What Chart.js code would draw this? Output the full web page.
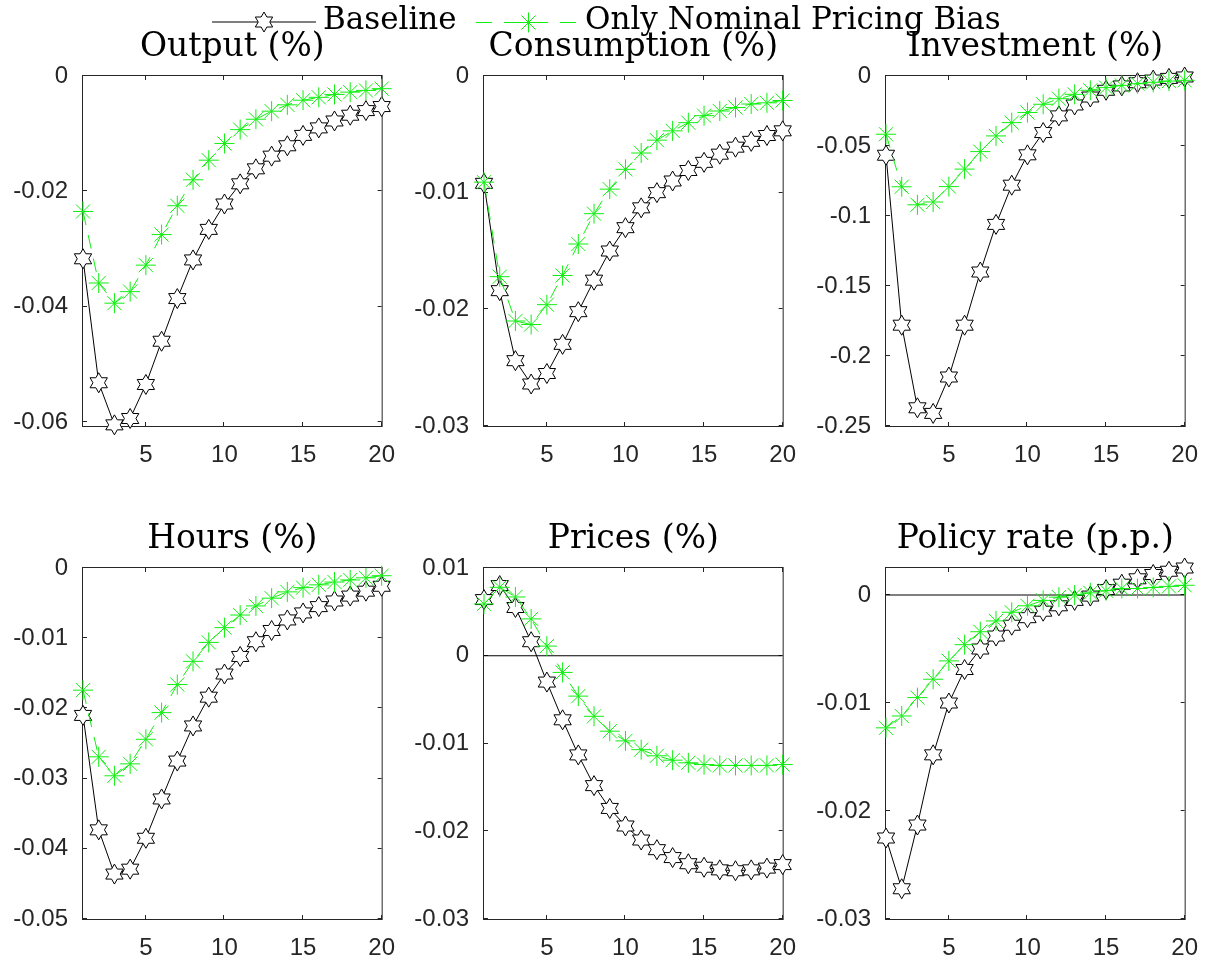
<!DOCTYPE html>
<html>
<head>
<meta charset="utf-8">
<script src="https://cdn.jsdelivr.net/npm/chart.js@4.4.0/dist/chart.umd.min.js"></script>
<style>
  body { margin: 0; background: #fff; width: 1218px; height: 965px; position: relative; overflow: hidden; }
  canvas.panel { position: absolute; }
  #legend { position: absolute; left: 0; top: 0; width: 1218px; height: 40px; z-index: 5;
            font-family: 'DejaVu Serif', serif; font-size: 31px; line-height: 31px; color: #000; }
  #legend canvas, #legend span { position: absolute; }
  #legend span { top: 3px; white-space: nowrap; }
</style>
</head>
<body>
<div id="legend">
  <canvas id="legBase" width="104" height="24" style="left:212px; top:10px"></canvas>
  <span style="left:323px">Baseline</span>
  <canvas id="legAlt" width="102" height="24" style="left:476px; top:10px"></canvas>
  <span style="left:585px">Only Nominal Pricing Bias</span>
</div>
<script>
// impulse responses, quarters 1..20
const periods = [1, 2, 3, 4, 5, 6, 7, 8, 9, 10, 11, 12, 13, 14, 15, 16, 17, 18, 19, 20];

const outputBaseline = [-0.0317, -0.0532, -0.0605, -0.0594, -0.0535, -0.0460, -0.0386, -0.0319, -0.0266, -0.0222,
                        -0.0187, -0.0161, -0.0139, -0.0121, -0.0103, -0.0090, -0.0078, -0.0068, -0.0060, -0.0053];
const outputNominal = [-0.0235, -0.0359, -0.0394, -0.0374, -0.0328, -0.0275, -0.0225, -0.0180, -0.0146, -0.0117,
                       -0.0093, -0.0075, -0.0061, -0.0050, -0.0042, -0.0037, -0.0032, -0.0028, -0.0025, -0.0022];

const consumptionBaseline = [-0.0092, -0.0184, -0.0244, -0.0264, -0.0255, -0.0230, -0.0202, -0.0175, -0.0150, -0.0130,
                             -0.0113, -0.0100, -0.0090, -0.0081, -0.0074, -0.0067, -0.0061, -0.0056, -0.0051, -0.0047];
const consumptionNominal = [-0.0091, -0.0172, -0.0210, -0.0213, -0.0196, -0.0171, -0.0144, -0.0118, -0.0097, -0.0080,
                            -0.0066, -0.0055, -0.0047, -0.0040, -0.0034, -0.0030, -0.0027, -0.0024, -0.0023, -0.0021];

const investmentBaseline = [-0.0566, -0.178, -0.237, -0.241, -0.215, -0.178, -0.140, -0.106, -0.078, -0.0563,
                            -0.0404, -0.0285, -0.0207, -0.0150, -0.0102, -0.0071, -0.0048, -0.0029, -0.0017, -0.0007];
const investmentNominal = [-0.0416, -0.0791, -0.092, -0.090, -0.079, -0.0665, -0.054, -0.0428, -0.0333, -0.0261,
                           -0.0202, -0.0162, -0.0131, -0.0102, -0.0083, -0.0067, -0.0055, -0.0045, -0.0036, -0.0031];

const hoursBaseline = [-0.0210, -0.0373, -0.0436, -0.0429, -0.0385, -0.0329, -0.0275, -0.0225, -0.0184, -0.0151,
                       -0.0126, -0.0105, -0.0089, -0.0074, -0.0064, -0.0055, -0.0047, -0.0040, -0.0033, -0.0026];
const hoursNominal = [-0.0174, -0.0269, -0.0296, -0.0279, -0.0244, -0.0206, -0.0166, -0.0133, -0.0106, -0.0085,
                      -0.0067, -0.0054, -0.0043, -0.0034, -0.0028, -0.0024, -0.0020, -0.0017, -0.0014, -0.0011];

const pricesBaseline = [0.0064, 0.0080, 0.0055, 0.0016, -0.0030, -0.0073, -0.0113, -0.0148, -0.0174, -0.0194,
                        -0.0210, -0.0221, -0.0230, -0.0237, -0.0241, -0.0244, -0.0245, -0.0244, -0.0242, -0.0238];
const pricesNominal = [0.0059, 0.0078, 0.0067, 0.0042, 0.0011, -0.0019, -0.0046, -0.0069, -0.0086, -0.0097,
                       -0.0107, -0.0114, -0.0119, -0.0122, -0.0124, -0.0125, -0.0125, -0.0125, -0.0125, -0.0124];

const policyBaseline = [-0.0225, -0.0272, -0.0213, -0.0148, -0.0100, -0.0069, -0.0050, -0.0038, -0.0028, -0.0021,
                        -0.0015, -0.0010, -0.0005, -0.0001, 0.0005, 0.0010, 0.0015, 0.0019, 0.0022, 0.0025];
const policyNominal = [-0.0123, -0.0112, -0.0095, -0.0078, -0.0061, -0.0046, -0.0034, -0.0024, -0.0016, -0.0010,
                       -0.0005, -0.0002, 0.0000, 0.0002, 0.0004, 0.0006, 0.0006, 0.0007, 0.0008, 0.0009];

// tick values
const xTicks = [5, 10, 15, 20];
const outputTicks = [-0.06, -0.04, -0.02, 0];
const consumptionTicks = [-0.03, -0.02, -0.01, 0];
const investmentTicks = [-0.25, -0.2, -0.15, -0.1, -0.05, 0];
const hoursTicks = [-0.05, -0.04, -0.03, -0.02, -0.01, 0];
const pricesTicks = [-0.03, -0.02, -0.01, 0, 0.01];
const policyTicks = [-0.03, -0.02, -0.01, 0];

const GREEN = '#11ee11';
const AXIS = '#262626';
const MARKER_R = 10;

// six-pointed star, white face, black edge
function drawHexagram(g, x, y, r) {
  g.beginPath();
  for (let i = 0; i < 12; i++) {
    const a = -Math.PI / 2 + i * Math.PI / 6;
    const rr = i % 2 ? r / Math.sqrt(3) : r;
    g.lineTo(x + rr * Math.cos(a), y + rr * Math.sin(a));
  }
  g.closePath();
  g.fillStyle = '#fff';
  g.fill();
  g.strokeStyle = '#000';
  g.lineWidth = 1;
  g.setLineDash([]);
  g.stroke();
}

function drawAsterisk(g, x, y, r, color) {
  const d = r * Math.SQRT1_2;
  g.strokeStyle = color;
  g.lineWidth = 1;
  g.setLineDash([]);
  g.beginPath();
  g.moveTo(x - r, y); g.lineTo(x + r, y);
  g.moveTo(x, y - r); g.lineTo(x, y + r);
  g.moveTo(x - d, y - d); g.lineTo(x + d, y + d);
  g.moveTo(x - d, y + d); g.lineTo(x + d, y - d);
  g.stroke();
}

// legend samples
(function () {
  let g = document.getElementById('legBase').getContext('2d');
  g.strokeStyle = '#000'; g.lineWidth = 1;
  g.beginPath(); g.moveTo(0, 12); g.lineTo(104, 12); g.stroke();
  drawHexagram(g, 52, 12, MARKER_R);
  g = document.getElementById('legAlt').getContext('2d');
  g.strokeStyle = GREEN; g.lineWidth = 1; g.setLineDash([16, 12]);
  g.beginPath(); g.moveTo(0, 12.5); g.lineTo(102, 12.5); g.stroke();
  drawAsterisk(g, 52.5, 12.5, MARKER_R, GREEN);
})();

// box with inward ticks on all four sides
const axesBox = {
  id: 'axesBox',
  beforeDatasetsDraw(chart) {
    const { ctx, chartArea: a, scales: { x, y } } = chart;
    const tl = 4;
    ctx.save();
    ctx.strokeStyle = AXIS;
    ctx.lineWidth = 1;
    ctx.strokeRect(a.left - 0.5, a.top - 0.5, a.right - a.left + 1, a.bottom - a.top + 1);
    ctx.beginPath();
    xTicks.forEach(v => {
      const px = Math.round(x.getPixelForValue(v)) - 0.5;
      ctx.moveTo(px, a.bottom); ctx.lineTo(px, a.bottom - tl);
      ctx.moveTo(px, a.top); ctx.lineTo(px, a.top + tl);
    });
    y.ticks.forEach(t => {
      const py = Math.round(y.getPixelForValue(t.value)) - 0.5;
      ctx.moveTo(a.left, py); ctx.lineTo(a.left + tl, py);
      ctx.moveTo(a.right, py); ctx.lineTo(a.right - tl, py);
    });
    ctx.stroke();
    ctx.restore();
  }
};

// hexagram markers for datasets flagged with marker: 'hexagram'
const hexMarkers = {
  id: 'hexMarkers',
  afterDatasetDraw(chart, args) {
    if (chart.data.datasets[args.index].marker !== 'hexagram') return;
    const ctx = chart.ctx;
    ctx.save();
    args.meta.data.forEach(pt => drawHexagram(ctx, pt.x, pt.y, MARKER_R));
    ctx.restore();
  }
};

const colLeft = [83, 484, 886];
const rowTop = [76, 568];
const boxW = 305;
const boxH = [350, 351];
const Y_AXIS_W = 90, X_AXIS_H = 45, TITLE_H = 60, RIGHT_PAD = 22;

const panels = [
  { title: 'Output (%)', base: outputBaseline, alt: outputNominal, min: -0.0607, max: 0, ticks: outputTicks, col: 0, row: 0 },
  { title: 'Consumption (%)', base: consumptionBaseline, alt: consumptionNominal, min: -0.03, max: 0, ticks: consumptionTicks, col: 1, row: 0 },
  { title: 'Investment (%)', base: investmentBaseline, alt: investmentNominal, min: -0.25, max: 0, ticks: investmentTicks, col: 2, row: 0 },
  { title: 'Hours (%)', base: hoursBaseline, alt: hoursNominal, min: -0.05, max: 0, ticks: hoursTicks, col: 0, row: 1 },
  { title: 'Prices (%)', base: pricesBaseline, alt: pricesNominal, min: -0.03, max: 0.01, ticks: pricesTicks, col: 1, row: 1, zero: true },
  { title: 'Policy rate (p.p.)', base: policyBaseline, alt: policyNominal, min: -0.03, max: 0.0025, ticks: policyTicks, col: 2, row: 1, zero: true }
];

const tickFont = { family: "'Liberation Sans', Arial, sans-serif", size: 24 };

panels.forEach(p => {
  const cv = document.createElement('canvas');
  cv.className = 'panel';
  cv.width = Y_AXIS_W + boxW + RIGHT_PAD;
  cv.height = TITLE_H + boxH[p.row] + X_AXIS_H;
  cv.style.left = (colLeft[p.col] - Y_AXIS_W) + 'px';
  cv.style.top = (rowTop[p.row] - TITLE_H) + 'px';
  document.body.appendChild(cv);

  const datasets = [
    {
      data: periods.map((t, i) => ({ x: t, y: p.alt[i] })),
      borderColor: GREEN, borderWidth: 1, borderDash: [14, 10],
      pointStyle: 'star', pointRadius: MARKER_R, pointBorderColor: GREEN, pointBorderWidth: 1,
      clip: false, order: 0
    },
    {
      data: periods.map((t, i) => ({ x: t, y: p.base[i] })),
      borderColor: '#000', borderWidth: 1, pointRadius: 0,
      marker: 'hexagram', clip: false, order: 1
    }
  ];
  if (p.zero) {
    datasets.push({
      data: [{ x: periods[0], y: 0 }, { x: periods[periods.length - 1], y: 0 }],
      borderColor: '#000', borderWidth: 1, pointRadius: 0, order: 2
    });
  }

  new Chart(cv, {
    type: 'line',
    data: { datasets },
    options: {
      responsive: false,
      devicePixelRatio: 1,
      animation: false,
      events: [],
      layout: { padding: { left: 0, right: RIGHT_PAD, top: 0, bottom: 0 }, autoPadding: false },
      elements: { line: { tension: 0 } },
      plugins: {
        legend: { display: false },
        tooltip: { enabled: false },
        title: {
          display: true, text: p.title, fullSize: false, color: '#000',
          font: { family: "'DejaVu Serif', serif", size: 33, weight: 'normal', lineHeight: 1.2 },
          padding: { top: 12, bottom: 8.4 }
        }
      },
      scales: {
        x: {
          type: 'linear', min: 1, max: 20,
          afterBuildTicks: s => { s.ticks = xTicks.map(v => ({ value: v })); },
          afterFit: s => { s.height = X_AXIS_H; },
          grid: { display: false, drawTicks: false },
          border: { display: false },
          ticks: { padding: 15, color: AXIS, font: tickFont, maxRotation: 0, autoSkip: false, callback: v => String(v) }
        },
        y: {
          type: 'linear', min: p.min, max: p.max,
          afterBuildTicks: s => { s.ticks = p.ticks.map(v => ({ value: v })); },
          afterFit: s => { s.width = Y_AXIS_W; },
          grid: { display: false, drawTicks: false },
          border: { display: false },
          ticks: { padding: 15, color: AXIS, font: tickFont, autoSkip: false, callback: v => String(parseFloat(v.toFixed(4)) || 0) }
        }
      }
    },
    plugins: [axesBox, hexMarkers]
  });
});
</script>
</body>
</html>
